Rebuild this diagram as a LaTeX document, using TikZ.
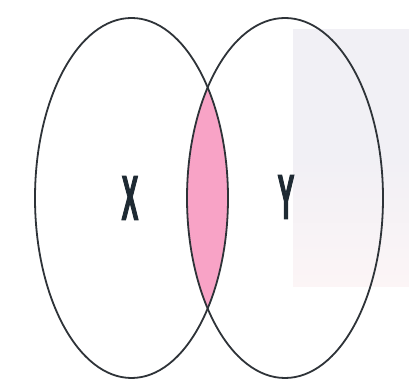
\documentclass[tikz,border=0pt]{standalone}
\usepackage{fontspec}
\setmainfont{Liberation Sans}
\font\labfont="Liberation Sans/B:embolden=3" at 62pt
\definecolor{edge}{HTML}{2E3338}
\definecolor{lens}{HTML}{F8A3C6}
\definecolor{wmtop}{HTML}{F1F0F5}
\definecolor{wmbot}{HTML}{FCF5F6}
\definecolor{txt}{HTML}{1E2A33}
\begin{document}
\begin{tikzpicture}[x=1pt,y=1pt,
  setline/.style={draw=edge,line width=1.8pt},
  setlabel/.style={font=\labfont,text=txt,inner sep=0pt}]
\useasboundingbox (0,0) rectangle (409,382);
% faint watermark block
\shade[top color=wmtop,bottom color=wmbot,middle color=wmtop] (293,352) rectangle (409,95);
\coordinate (cx) at (131.5,184);
\coordinate (cy) at (285,184);
\begin{scope}
  \clip (cx) ellipse [x radius=96.5, y radius=180];
  \fill[lens] (cy) ellipse [x radius=98, y radius=180];
\end{scope}
\draw[setline] (cx) ellipse [x radius=96.5, y radius=180];
\draw[setline] (cy) ellipse [x radius=98, y radius=180];
\node[setlabel] (lx) at (130,184) {\scalebox{0.40}[1]{X}};
\node[setlabel] (ly) at (286,185) {\scalebox{0.40}[1]{Y}};
\end{tikzpicture}
\end{document}
